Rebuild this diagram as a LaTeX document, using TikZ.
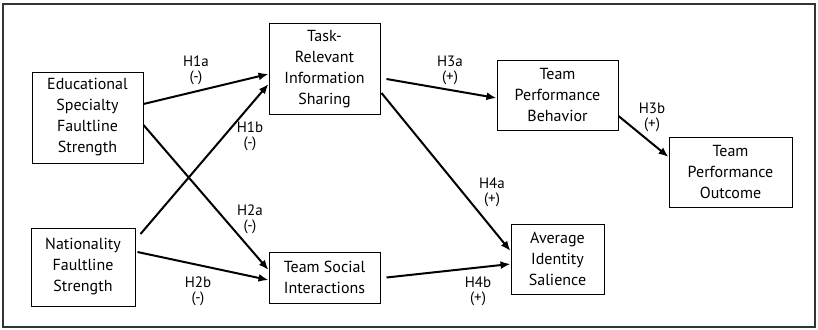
\documentclass[tikz,border=0pt]{standalone}
\usepackage{fontspec}
\setmainfont{PT Sans}
\usepackage{tikz}
\usetikzlibrary{arrows.meta, positioning}

\begin{document}
\begin{tikzpicture}[
x=1pt, y=-1pt,
var/.style={rectangle, draw=black, line width=1pt, align=center, inner sep=0pt, font=\fontsize{16}{21}\selectfont},
hyp/.style={align=center, inner sep=0pt, font=\fontsize{15}{15.2}\selectfont},
link/.style={-{Latex[length=10pt, width=8pt]}, line width=2pt}
]

\useasboundingbox (0,0) rectangle (818,329);
\draw[line width=1.3pt, black!80] (3,4) rectangle (815,327);

% Faultlines
\node[var, minimum width=111pt, minimum height=91pt] (edu) at (87.5,117.5) {Educational\\Specialty\\Faultline\\Strength};
\node[var, minimum width=104pt, minimum height=78pt] (nat) at (83,267) {Nationality\\Faultline\\Strength};

% Mediators
\node[var, minimum width=111pt, minimum height=90pt] (task) at (324.5,69) {Task-\\Relevant\\Information\\Sharing};
\node[var, minimum width=111pt, minimum height=51pt] (social) at (324.5,277.5) {Team Social\\Interactions};

% Outcomes
\node[var, minimum width=121pt, minimum height=70pt] (behavior) at (557.5,95) {Team\\Performance\\Behavior};
\node[var, minimum width=123pt, minimum height=70pt] (outcome) at (730.5,172) {Team\\Performance\\Outcome};
\node[var, minimum width=93pt, minimum height=70pt] (salience) at (557.5,259) {Average\\Identity\\Salience};

% Hypotheses
\draw[link] ([yshift=13.5pt]edu.east) -- ([yshift=-5pt]task.west);
\draw[link] ([xshift=5pt, yshift=33pt]nat.east) -- ([yshift=-15pt]task.west);
\draw[link] ([yshift=-7.5pt]edu.east) -- ([yshift=7.5pt]social.west);
\draw[link] ([xshift=2pt, yshift=15pt]nat.east) -- ([yshift=-2.5pt]social.west);
\draw[link] ([xshift=6pt, yshift=-10pt]task.east) -- ([yshift=-3pt]behavior.west);
\draw[link] ([yshift=-21pt]behavior.east) -- ([yshift=15pt]outcome.west);
\draw[link] ([xshift=1pt, yshift=-24pt]task.east) -- ([yshift=8pt]salience.west);
\draw[link] ([xshift=6pt]social.east) -- ([yshift=-5pt]salience.west);

% Labels
\node[hyp] (h1a) at (196,70) {H1a\\(-)};
\node[hyp] (h1b) at (250,136) {H1b\\(-)};
\node[hyp] (h2a) at (250,219) {H2a\\(-)};
\node[hyp] (h2b) at (198,291) {H2b\\(-)};
\node[hyp] (h3a) at (450,70) {H3a\\(+)};
\node[hyp] (h3b) at (652,117) {H3b\\(+)};
\node[hyp] (h4a) at (492,192) {H4a\\(+)};
\node[hyp] (h4b) at (478,291) {H4b\\(+)};

\end{tikzpicture}
\end{document}
